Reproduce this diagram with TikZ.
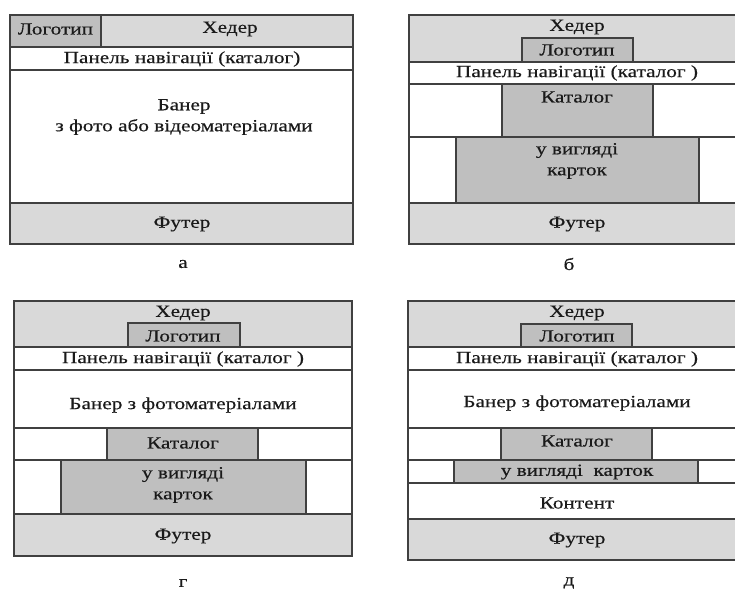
\documentclass[tikz,border=0pt]{standalone}
\usepackage{fontspec}
\setmainfont[FakeStretch=1.25,FakeBold=0.4]{Liberation Serif}
\definecolor{lightg}{HTML}{D9D9D9}
\definecolor{darkg}{HTML}{BFBFBF}
\definecolor{edgec}{HTML}{404040}
\definecolor{txtc}{HTML}{1A1A1A}
\newcommand\blk[6]{\node[#6, anchor=north west, minimum width={(#4-#2)*1pt}, minimum height={(#5-#3)*1pt}] (#1) at (#2,#3) {};}
\tikzset{
  cell/.style={draw=edgec, line width=1.3pt, inner sep=0pt, outer sep=0pt},
  whitebox/.style={cell, fill=white},
  lightbox/.style={cell, fill=lightg},
  darkbox/.style={cell, fill=darkg},
  txt/.style={inner sep=0pt, text=txtc, font=\fontsize{17}{21}\selectfont, align=center},
}
\begin{document}
\begin{tikzpicture}[x=1pt,y=-1pt]
\useasboundingbox[fill=white] (0,0) rectangle (735,590);
% ---------- a ----------
\blk{aHead}{10}{15}{353}{47}{lightbox}
\blk{aLogo}{10}{15}{101}{47}{darkbox}
\blk{aNav}{10}{47}{353}{70}{whitebox}
\blk{aBan}{10}{70}{353}{203}{whitebox}
\blk{aFoot}{10}{203}{353}{244}{lightbox}
\node[txt] (aLogoT) at (55.5,29) {Логотип};
\node[txt] (aHeadT) at (230,29) {Хедер};
\node[txt] (aNavT) at (182,59) {Панель навігації (каталог)};
\node[txt] (aBanT) at (184,117) {Банер\\з фото або відеоматеріалами};
\node[txt] (aFootT) at (182,224) {Футер};
\node[txt] (aLab) at (183,264) {а};
% ---------- b ----------
\blk{bHead}{409}{15}{745}{62}{lightbox}
\blk{bNav}{409}{62}{745}{84}{whitebox}
\blk{bCatRow}{409}{84}{745}{137}{whitebox}
\blk{bCardRow}{409}{137}{745}{203}{whitebox}
\blk{bFoot}{409}{203}{745}{244}{lightbox}
\blk{bLogo}{522}{38}{633}{62}{darkbox}
\blk{bCat}{502}{84}{653}{137}{darkbox}
\blk{bCard}{456}{137}{699}{203}{darkbox}
\node[txt] (bHeadT) at (577,27) {Хедер};
\node[txt] (bLogoT) at (577,50) {Логотип};
\node[txt] (bNavT) at (577,73) {Панель навігації (каталог )};
\node[txt] (bCatT) at (577,97) {Каталог};
\node[txt] (bCardT) at (577,161) {у вигляді\\карток};
\node[txt] (bFootT) at (577,224) {Футер};
\node[txt] (bLab) at (569,264) {б};
% ---------- g ----------
\blk{gHead}{14}{301}{352}{347}{lightbox}
\blk{gNav}{14}{347}{352}{370}{whitebox}
\blk{gBan}{14}{370}{352}{428}{whitebox}
\blk{gCatRow}{14}{428}{352}{460}{whitebox}
\blk{gCardRow}{14}{460}{352}{514}{whitebox}
\blk{gFoot}{14}{514}{352}{556}{lightbox}
\blk{gLogo}{128}{323}{240}{347}{darkbox}
\blk{gCat}{107}{428}{258}{460}{darkbox}
\blk{gCard}{61}{460}{306}{514}{darkbox}
\node[txt] (gHeadT) at (183,313) {Хедер};
\node[txt] (gLogoT) at (183,336) {Логотип};
\node[txt] (gNavT) at (183,359) {Панель навігації (каталог )};
\node[txt] (gBanT) at (183,405) {Банер з фотоматеріалами};
\node[txt] (gCatT) at (183,443) {Каталог};
\node[txt] (gCardT) at (183,485) {у вигляді\\карток};
\node[txt] (gFootT) at (183,536) {Футер};
\node[txt] (gLab) at (183,583) {г};
% ---------- d ----------
\blk{dHead}{408}{301}{745}{347}{lightbox}
\blk{dNav}{408}{347}{745}{370}{whitebox}
\blk{dBan}{408}{370}{745}{428}{whitebox}
\blk{dCatRow}{408}{428}{745}{460}{whitebox}
\blk{dCardRow}{408}{460}{745}{483}{whitebox}
\blk{dCont}{408}{483}{745}{519}{whitebox}
\blk{dFoot}{408}{519}{745}{560}{lightbox}
\blk{dLogo}{521}{324}{632}{347}{darkbox}
\blk{dCat}{501}{428}{652}{460}{darkbox}
\blk{dCard}{454}{460}{698}{483}{darkbox}
\node[txt] (dHeadT) at (577,313) {Хедер};
\node[txt] (dLogoT) at (577,336) {Логотип};
\node[txt] (dNavT) at (577,359) {Панель навігації (каталог )};
\node[txt] (dBanT) at (577,403) {Банер з фотоматеріалами};
\node[txt] (dCatT) at (577,441) {Каталог};
\node[txt] (dCardT) at (577,472) {у вигляді\ \ карток};
\node[txt] (dContT) at (577,503) {Контент};
\node[txt] (dFootT) at (577,540) {Футер};
\node[txt] (dLab) at (569,583) {д};
\end{tikzpicture}
\end{document}
